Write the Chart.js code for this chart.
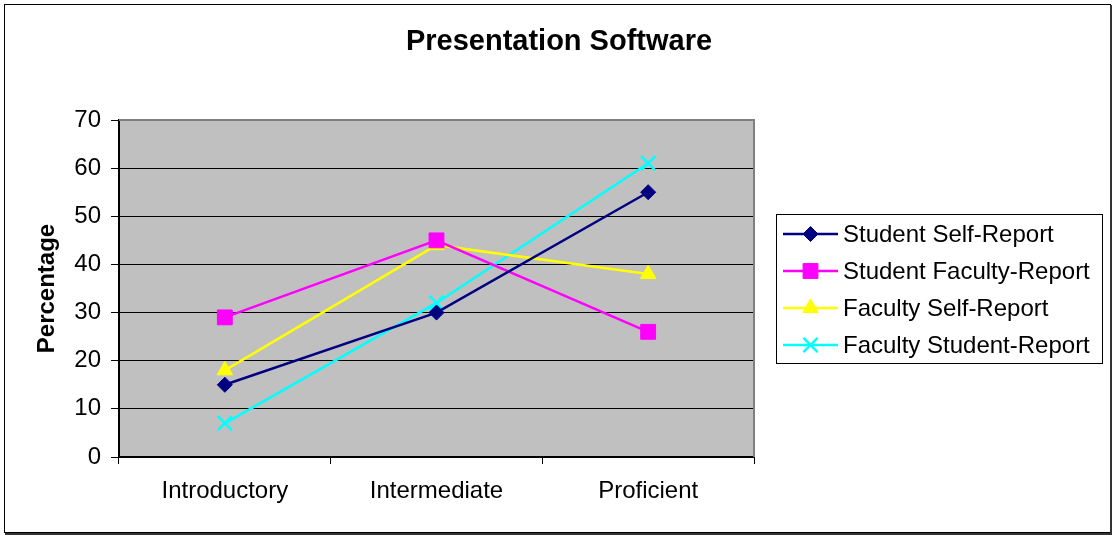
<!DOCTYPE html>
<html>
<head>
<meta charset="utf-8">
<script src="https://cdn.jsdelivr.net/npm/chart.js@4.4.1/dist/chart.umd.min.js"></script>
<style>
  html, body { margin: 0; padding: 0; background: #fff; }
  #wrap { width: 1114px; height: 536px; position: relative; }
</style>
</head>
<body>
<div id="wrap"><canvas id="c" width="1114" height="536"></canvas></div>
<script>
// Skill levels along the x axis
const categories = ['Introductory', 'Intermediate', 'Proficient'];

// Percent of respondents at each level
const studentSelfReport = [15, 30, 55];
const studentFacultyReport = [29, 45, 26];
const facultySelfReport = [18, 44, 38];
const facultyStudentReport = [7, 32, 61];

const seriesLabels = ['Student Self-Report', 'Student Faculty-Report', 'Faculty Self-Report', 'Faculty Student-Report'];
const yTicks = [0, 10, 20, 30, 40, 50, 60, 70];
const chartTitle = 'Presentation Software';

const FONT = '"Liberation Sans", Arial, Helvetica, sans-serif';

function series(label, data, color, style, radius) {
  return {
    label, data,
    borderColor: color,
    backgroundColor: color,
    borderWidth: 2.5,
    pointStyle: style,
    pointRadius: radius,
    pointHoverRadius: radius,
    pointBorderWidth: style === 'crossRot' ? 2.5 : 1,
    pointBorderColor: color,
    pointBackgroundColor: color,
    tension: 0
  };
}

const datasets = [
  series(seriesLabels[0], studentSelfReport, '#000080', 'rectRot', 7.5),
  series(seriesLabels[1], studentFacultyReport, '#FF00FF', 'rect', 10.5),
  series(seriesLabels[2], facultySelfReport, '#FFFF00', 'triangle', 9),
  series(seriesLabels[3], facultyStudentReport, '#00FFFF', 'crossRot', 10)
];

// Background, plot-area frame, title centred on the whole chart, outer border and the boxed legend
const framePlugin = {
  id: 'frame',
  beforeDraw(chart) {
    const { ctx, chartArea: a } = chart;
    ctx.save();
    ctx.fillStyle = '#ffffff';
    ctx.fillRect(0, 0, chart.width, chart.height);
    ctx.fillStyle = '#C0C0C0';
    ctx.fillRect(a.left, a.top, a.right - a.left, a.bottom - a.top);
    ctx.restore();
  },
  beforeDatasetsDraw(chart) {
    const { ctx, chartArea: a } = chart;
    ctx.save();
    ctx.strokeStyle = '#808080';
    ctx.lineWidth = 2;
    ctx.beginPath();
    ctx.moveTo(a.left, a.top);
    ctx.lineTo(a.right, a.top);
    ctx.lineTo(a.right, a.bottom);
    ctx.stroke();
    ctx.restore();
  },
  afterDraw(chart) {
    const { ctx } = chart;
    ctx.save();
    // chart title
    ctx.fillStyle = '#000000';
    ctx.font = 'bold 29px ' + FONT;
    ctx.textAlign = 'center';
    ctx.textBaseline = 'middle';
    ctx.fillText(chartTitle, 559, 42);

    // outer chart border
    ctx.strokeStyle = '#000000';
    ctx.lineWidth = 1;
    ctx.strokeRect(4.5, 4.5, 1106, 528);
    ctx.strokeStyle = '#333333';
    ctx.lineWidth = 2;
    ctx.beginPath();
    ctx.moveTo(1111, 5);
    ctx.lineTo(1111, 534);
    ctx.lineTo(5, 534);
    ctx.stroke();

    // legend
    const box = { left: 776, top: 214, right: 1102, bottom: 363 };
    ctx.strokeStyle = '#000000';
    ctx.lineWidth = 1;
    ctx.strokeRect(box.left + 0.5, box.top + 0.5, box.right - box.left, box.bottom - box.top);
    const rowY = [234, 271, 308, 345];
    ctx.font = '24px ' + FONT;
    ctx.textBaseline = 'middle';
    ctx.textAlign = 'left';
    chart.data.datasets.forEach((ds, i) => {
      const y = rowY[i];
      ctx.strokeStyle = ds.borderColor;
      ctx.lineWidth = ds.borderWidth;
      ctx.beginPath();
      ctx.moveTo(783, y);
      ctx.lineTo(838, y);
      ctx.stroke();
      ctx.fillStyle = ds.pointBackgroundColor;
      ctx.strokeStyle = ds.pointBorderColor;
      ctx.lineWidth = ds.pointBorderWidth;
      Chart.helpers.drawPoint(ctx, {
        pointStyle: ds.pointStyle,
        radius: ds.pointRadius,
        rotation: 0,
        borderWidth: ds.pointBorderWidth
      }, 810.5, y);
      ctx.fillStyle = '#000000';
      ctx.fillText(ds.label, 843, y + 1);
    });
    ctx.restore();
  }
};

new Chart(document.getElementById('c'), {
  type: 'line',
  data: { labels: categories, datasets },
  options: {
    responsive: false,
    animation: false,
    events: [],
    layout: { padding: { left: 0, right: 360, top: 120, bottom: 0 } },
    plugins: {
      legend: { display: false },
      tooltip: { enabled: false },
      title: { display: false }
    },
    scales: {
      x: {
        type: 'category',
        offset: true,
        grid: {
          display: true,
          offset: true,
          drawOnChartArea: false,
          drawTicks: true,
          tickLength: 7,
          color: '#000000',
          lineWidth: 1
        },
        border: { display: true, color: '#000000', width: 2 },
        ticks: {
          color: '#000000',
          padding: 13,
          maxRotation: 0,
          autoSkip: false,
          font: { family: FONT, size: 24 }
        },
        afterFit(scale) { scale.height = 79; }
      },
      y: {
        min: 0,
        max: 70,
        afterBuildTicks(scale) { scale.ticks = yTicks.map(v => ({ value: v })); },
        grid: {
          color: '#000000',
          lineWidth: 1,
          tickLength: 8,
          drawTicks: true
        },
        border: { display: true, color: '#000000', width: 2 },
        ticks: {
          color: '#000000',
          padding: 10,
          font: { family: FONT, size: 24 }
        },
        title: {
          display: true,
          text: 'Percentage',
          color: '#000000',
          font: { family: FONT, size: 24, weight: 'bold', lineHeight: 1.2 },
          padding: { top: 33, bottom: 0 }
        },
        afterFit(scale) { scale.width = 119; }
      }
    }
  },
  plugins: [framePlugin]
});
</script>
</body>
</html>
